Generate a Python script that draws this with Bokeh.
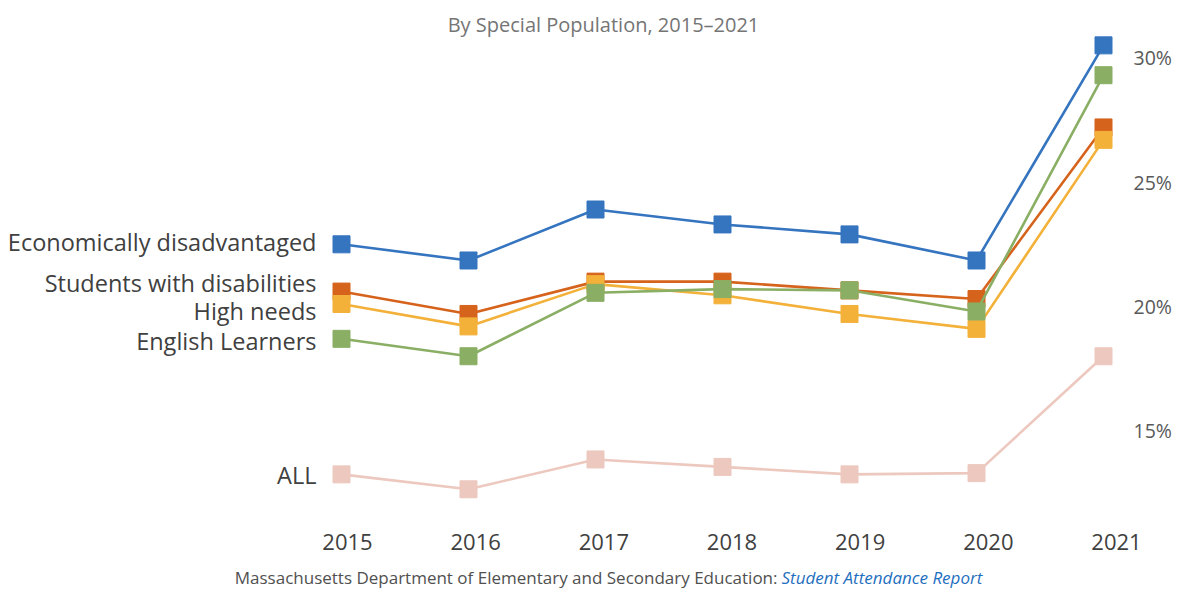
from bokeh.plotting import figure
from bokeh.models import Range1d, FixedTicker, Label, PrintfTickFormatter, LinearAxis
from bokeh.embed import file_html
from bokeh.resources import INLINE

years = [2015, 2016, 2017, 2018, 2019, 2020, 2021]
econ = [22.5, 21.85, 23.9, 23.3, 22.9, 21.85, 30.5]
swd = [20.6, 19.7, 21.0, 21.0, 20.65, 20.3, 27.2]
high = [20.1, 19.2, 20.9, 20.45, 19.7, 19.1, 26.7]
el = [18.7, 18.0, 20.55, 20.7, 20.65, 19.8, 29.3]
all_students = [13.25, 12.65, 13.85, 13.55, 13.25, 13.3, 18.0]
y_ticks = [15, 20, 25, 30]

series = [
    ("ALL", all_students, "#ecc8bf"),
    ("Economically disadvantaged", econ, "#3574bf"),
    ("Students with disabilities", swd, "#d6631c"),
    ("High needs", high, "#f3b13a"),
    ("English Learners", el, "#8aaf64"),
]

FONT = "Open Sans"
W, H = 1179, 592
# frame geometry in figure pixels
FL, FR, FT, FB = 0, 1179, 0, 592
X0 = 2015 - 341 / 127
X1 = 2021 + (1179 - 1103) / 127
Y0, Y1 = 8.50, 32.304
# category-label range (labels sit slightly right of the markers)
LX0 = 2015 - 347 / 128.17
LX1 = 2015 + (1179 - 347) / 128.17

def px_x(px):  # figure pixel -> data x
    return X0 + (px - FL) / (FR - FL) * (X1 - X0)

def px_y(py):  # figure pixel -> data y
    return Y1 - (py - FT) / (FB - FT) * (Y1 - Y0)

p = figure(width=W, height=H, x_range=Range1d(X0, X1), y_range=Range1d(Y0, Y1),
           y_axis_location="right", x_axis_location=None,
           output_backend="svg", toolbar_location=None,
           min_border_left=0, min_border_top=0, min_border_right=0,
           min_border_bottom=0)
p.extra_x_ranges = {"labels": Range1d(LX0, LX1)}
p.outline_line_color = None
p.xgrid.visible = False
p.ygrid.visible = False
p.background_fill_color = "white"
p.border_fill_color = "white"

for name, vals, col in series:
    p.line(years, vals, line_color=col, line_width=2.6)
    p.scatter(years, vals, marker="square", size=17, fill_color=col, line_color=col)

xa = LinearAxis(x_range_name="labels")
xa.ticker = FixedTicker(ticks=years)
xa.fixed_location = px_y(515)
xa.axis_line_color = None
xa.major_tick_line_color = None
xa.minor_tick_line_color = None
xa.major_label_text_font = FONT
xa.major_label_text_font_size = "22px"
xa.major_label_text_color = "#404040"
xa.major_label_standoff = 12
p.add_layout(xa, "below")

ya = p.yaxis[0]
ya.ticker = FixedTicker(ticks=y_ticks)
ya.formatter = PrintfTickFormatter(format="%d%%")
ya.fixed_location = px_x(1115)
ya.axis_line_color = None
ya.major_tick_line_color = None
ya.minor_tick_line_color = None
ya.major_label_text_font = FONT
ya.major_label_text_font_size = "19.5px"
ya.major_label_text_color = "#595959"
ya.major_label_standoff = 12

# series labels on the left
label_py = {"Economically disadvantaged": 241, "Students with disabilities": 282,
            "High needs": 310, "English Learners": 340, "ALL": 474}
for name, vals, col in series:
    p.add_layout(Label(x=px_x(316), y=px_y(label_py[name]), text=name,
                       text_align="right", text_baseline="middle",
                       text_font=FONT, text_font_size="23.5px",
                       text_color="#404040"))

# title
p.add_layout(Label(x=px_x(603), y=px_y(24), text="By Special Population, 2015\u20132021",
                   text_align="center", text_baseline="middle",
                   text_font=FONT, text_font_size="20px", text_color="#757575"))

# source footer
p.add_layout(Label(x=px_x(777), y=px_y(577),
                   text="Massachusetts Department of Elementary and Secondary Education:",
                   text_align="right", text_baseline="middle",
                   text_font=FONT, text_font_size="17px", text_color="#505050"))
p.add_layout(Label(x=px_x(781), y=px_y(577), text="Student Attendance Report",
                   text_align="left", text_baseline="middle", text_font_style="italic",
                   text_font=FONT, text_font_size="17px", text_color="#1f6fc0"))

open("out.html", "w").write(file_html(p, INLINE))
